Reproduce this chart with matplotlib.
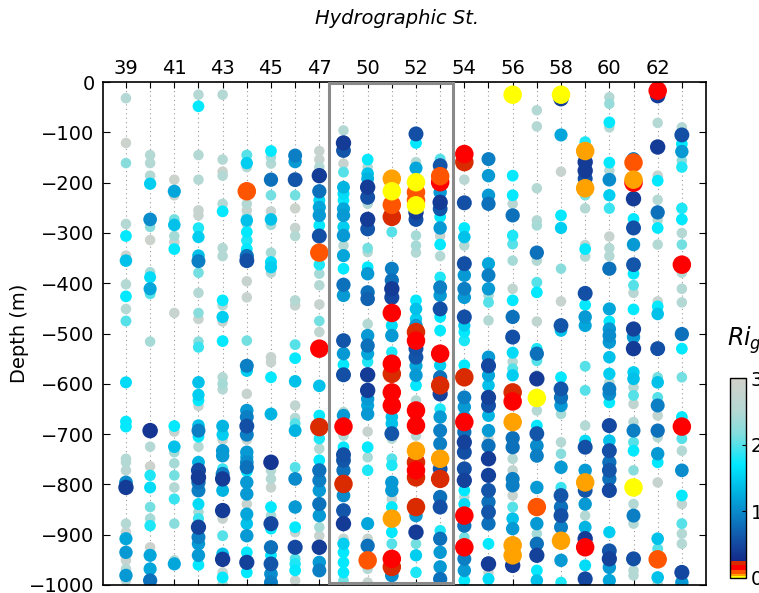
import matplotlib
matplotlib.use("Agg")
import matplotlib.pyplot as plt
import numpy as np
from matplotlib.colors import LinearSegmentedColormap, Normalize
from matplotlib.patches import Rectangle

# station numbers (48 was not occupied)
stations = [39, 40, 41, 42, 43, 44, 45, 46, 47, 49, 50, 51, 52, 53, 54, 55,
            56, 57, 58, 59, 60, 61, 62, 63]

# depth (m) and gradient Richardson number per station
z39 = [-32, -121, -161, -282, -306, -345, -355, -402, -426, -451, -475, -597, -675, -685, -749, -756, -772, -796, -806, -878, -895, -908, -935, -951, -968, -981, -991]
r39 = [2.5, 2.9, 2.2, 2.5, 1.7, 2.9, 1.4, 2.5, 1.7, 2.5, 2.0, 1.6, 1.7, 1.7, 2.5, 2.5, 2.6, 1.0, 0.4, 2.5, 2.8, 1.2, 1.1, 2.8, 2.5, 1.1, 2.6]
z40 = [-145, -161, -186, -202, -273, -288, -314, -378, -388, -411, -421, -516, -693, -725, -764, -782, -806, -845, -868, -882, -925, -941, -968, -991]
r40 = [2.5, 2.5, 2.5, 1.5, 1.0, 2.2, 2.9, 2.4, 1.6, 1.2, 2.0, 2.4, 0.35, 2.5, 2.9, 1.8, 1.6, 2.1, 2.4, 1.8, 2.9, 1.2, 1.2, 0.8]
z41 = [-194, -217, -225, -273, -284, -306, -318, -332, -459, -684, -695, -725, -736, -758, -782, -806, -829, -878, -951, -958]
r41 = [2.9, 1.2, 2.8, 2.1, 1.4, 2.4, 2.8, 1.7, 2.8, 1.7, 2.8, 1.4, 2.4, 2.4, 2.1, 2.5, 1.9, 2.2, 2.5, 1.2]
z42 = [-25, -48, -145, -194, -255, -265, -290, -308, -345, -356, -379, -419, -459, -471, -516, -527, -597, -622, -633, -644, -683, -693, -705, -725, -756, -772, -786, -796, -812, -839, -855, -868, -885, -905, -918, -941, -960]
r42 = [2.5, 1.7, 2.5, 2.5, 2.8, 2.8, 1.8, 1.5, 1.4, 0.9, 2.1, 2.5, 2.2, 2.8, 2.2, 1.9, 1.4, 1.5, 1.7, 2.8, 1.4, 0.9, 1.7, 2.5, 1.3, 0.5, 0.4, 0.8, 0.9, 1.6, 2.4, 1.9, 0.45, 0.9, 1.1, 1.1, 1.7]
z43 = [-25, -154, -178, -186, -242, -257, -330, -346, -434, -444, -467, -476, -515, -587, -600, -611, -684, -701, -711, -733, -743, -769, -779, -789, -812, -852, -868, -902, -938, -949, -975, -985, -998]
r43 = [2.5, 2.5, 2.9, 2.5, 2.5, 1.7, 2.5, 2.5, 1.7, 2.5, 1.5, 2.8, 1.7, 2.5, 2.4, 2.5, 1.3, 1.5, 2.8, 1.1, 1.1, 1.9, 0.9, 0.4, 1.3, 0.4, 2.8, 2.0, 1.4, 0.4, 2.8, 1.7, 2.5]
z44 = [-145, -161, -169, -217, -242, -255, -268, -275, -282, -298, -315, -332, -346, -355, -396, -428, -514, -564, -574, -620, -653, -666, -684, -701, -711, -736, -746, -756, -766, -774, -796, -819, -839, -859, -878, -902, -935, -955, -975]
r44 = [2.0, 1.5, 2.5, 0.09, 2.5, 2.8, 2.5, 1.4, 2.4, 1.7, 1.8, 1.7, 0.8, 0.55, 2.8, 2.8, 2.1, 0.9, 1.5, 2.8, 1.1, 0.9, 0.55, 0.9, 2.8, 1.1, 1.2, 1.0, 0.8, 1.7, 1.1, 1.1, 2.8, 1.2, 1.4, 1.1, 1.7, 0.45, 1.7]
z45 = [-137, -149, -162, -194, -225, -257, -273, -284, -339, -358, -368, -379, -547, -557, -587, -660, -756, -772, -789, -806, -845, -862, -878, -888, -925, -941, -958, -978, -995]
r45 = [1.7, 2.4, 2.5, 0.8, 2.1, 2.8, 1.4, 2.4, 2.4, 1.6, 1.5, 2.6, 2.8, 2.8, 1.7, 1.3, 0.35, 2.5, 2.5, 2.8, 1.7, 2.4, 0.5, 1.7, 0.8, 1.7, 0.6, 1.0, 0.9]
z46 = [-146, -158, -194, -225, -251, -290, -306, -434, -444, -522, -549, -595, -643, -668, -679, -693, -766, -789, -845, -885, -895, -925, -948, -958, -971, -991]
r46 = [0.9, 1.1, 0.6, 2.1, 2.9, 2.8, 2.5, 2.5, 2.8, 2.0, 1.7, 1.4, 2.7, 2.5, 2.0, 1.3, 2.0, 1.0, 1.1, 1.7, 2.8, 0.5, 2.0, 1.8, 1.7, 2.8]
z47 = [-137, -154, -169, -186, -217, -235, -249, -265, -285, -306, -339, -363, -381, -404, -442, -475, -497, -530, -604, -663, -686, -709, -729, -752, -772, -792, -812, -839, -862, -885, -902, -925, -955, -971]
r47 = [2.8, 2.8, 2.5, 0.4, 0.8, 1.6, 1.2, 1.1, 1.7, 0.55, 0.09, 1.8, 2.4, 2.5, 2.8, 2.1, 2.7, 0.15, 1.4, 1.7, 0.22, 1.8, 2.5, 1.7, 0.8, 0.9, 1.1, 0.8, 1.1, 2.4, 2.8, 0.4, 1.1, 0.9]
z49 = [-96, -121, -136, -162, -179, -209, -222, -235, -252, -265, -288, -305, -325, -345, -371, -403, -424, -514, -540, -562, -582, -656, -663, -685, -703, -726, -741, -752, -772, -799, -822, -852, -878, -908, -918, -935, -955, -975, -991]
r49 = [2.5, 0.4, 0.6, 2.8, 2.0, 1.3, 1.6, 1.7, 1.2, 1.1, 1.5, 1.1, 2.5, 1.2, 1.7, 0.8, 1.1, 0.6, 1.1, 1.7, 0.55, 2.5, 1.1, 0.15, 2.5, 1.7, 0.55, 0.6, 0.8, 0.22, 1.0, 0.6, 0.4, 2.8, 1.5, 1.7, 1.7, 1.7, 2.1]
z50 = [-154, -169, -182, -192, -209, -229, -242, -273, -292, -330, -338, -368, -381, -418, -431, -481, -504, -524, -540, -556, -582, -613, -630, -643, -660, -695, -726, -746, -772, -878, -908, -922, -951, -968, -995]
r50 = [1.7, 2.5, 1.4, 1.3, 0.4, 0.55, 2.5, 0.4, 0.6, 2.1, 2.5, 1.7, 1.1, 0.8, 0.7, 2.5, 1.1, 0.8, 1.2, 1.8, 0.4, 0.4, 1.1, 1.2, 1.1, 2.8, 1.7, 2.4, 1.8, 1.2, 2.8, 0.8, 0.09, 2.5, 2.8]
z51 = [-192, -217, -244, -268, -298, -371, -394, -411, -428, -459, -484, -504, -537, -560, -580, -617, -643, -666, -679, -699, -709, -749, -762, -796, -812, -829, -845, -868, -895, -918, -948, -964, -981]
r51 = [0.045, 0.01, 0.09, 0.22, 2.0, 0.9, 0.8, 0.4, 0.5, 0.15, 1.6, 1.1, 1.8, 0.15, 0.22, 0.15, 0.15, 1.4, 1.4, 0.6, 2.5, 2.0, 1.8, 1.1, 1.1, 2.8, 1.7, 0.045, 1.7, 2.0, 0.15, 0.22, 1.0]
z52 = [-103, -121, -159, -171, -199, -219, -235, -245, -259, -273, -305, -325, -339, -434, -451, -471, -484, -497, -514, -530, -547, -564, -583, -603, -633, -653, -683, -703, -733, -756, -772, -786, -845, -862, -895, -918, -941, -975]
r52 = [0.55, 1.7, 2.5, 1.2, 0.01, 0.09, 0.09, 0.01, 0.4, 0.55, 2.4, 2.4, 2.5, 1.7, 1.4, 1.5, 1.1, 0.22, 0.15, 0.55, 0.6, 1.2, 1.1, 1.7, 2.5, 0.15, 0.15, 2.5, 0.045, 0.22, 0.15, 0.22, 0.22, 1.1, 0.4, 2.1, 1.5, 1.8]
z53 = [-153, -166, -187, -199, -219, -239, -252, -268, -290, -306, -323, -346, -388, -408, -424, -451, -467, -494, -540, -563, -587, -603, -620, -650, -666, -693, -719, -749, -769, -789, -825, -845, -892, -908, -935, -964, -988]
r53 = [2.0, 0.6, 0.09, 0.15, 1.1, 0.4, 0.6, 1.7, 1.1, 2.8, 1.7, 2.5, 1.8, 0.9, 1.1, 0.55, 1.7, 1.7, 0.15, 1.5, 0.8, 0.22, 0.45, 1.8, 1.1, 0.9, 0.9, 0.045, 0.6, 0.22, 0.8, 0.55, 1.8, 0.8, 1.1, 1.1, 0.8]
z54 = [-143, -159, -194, -240, -290, -308, -325, -361, -384, -411, -428, -467, -484, -497, -514, -563, -587, -627, -646, -666, -676, -696, -716, -736, -769, -792, -812, -825, -839, -862, -882, -905, -925, -948, -971, -991]
r54 = [0.15, 0.22, 2.6, 0.55, 1.7, 1.4, 2.5, 0.55, 1.1, 0.9, 1.1, 0.55, 1.5, 1.7, 1.8, 1.7, 0.22, 0.9, 1.1, 1.2, 0.15, 0.8, 0.45, 0.55, 0.55, 0.45, 1.7, 2.5, 1.6, 0.15, 0.8, 2.1, 0.15, 0.9, 1.1, 1.7]
z55 = [-153, -186, -225, -242, -361, -384, -411, -424, -438, -474, -547, -564, -583, -603, -627, -643, -663, -693, -709, -723, -749, -782, -812, -835, -855, -878, -918, -958, -975, -988]
r55 = [0.9, 1.1, 1.1, 0.8, 1.2, 0.9, 1.1, 2.4, 2.0, 2.5, 1.1, 0.5, 1.2, 1.4, 0.45, 0.55, 1.3, 1.1, 2.8, 0.8, 0.4, 0.45, 0.6, 0.8, 0.6, 0.8, 1.7, 0.4, 2.8, 1.6]
z56 = [-25, -186, -225, -242, -265, -305, -322, -355, -411, -434, -467, -507, -538, -556, -570, -583, -617, -635, -676, -708, -726, -749, -772, -789, -802, -822, -845, -868, -888, -921, -941, -961]
r56 = [0.01, 1.7, 1.7, 2.6, 0.8, 1.8, 2.0, 2.4, 2.7, 1.7, 0.8, 0.55, 1.6, 2.5, 2.0, 1.5, 0.22, 0.15, 0.045, 0.8, 0.8, 2.5, 2.7, 0.9, 0.9, 2.8, 2.0, 1.4, 1.1, 0.045, 0.045, 0.4]
z57 = [-56, -88, -211, -275, -285, -339, -355, -398, -418, -476, -530, -540, -554, -583, -590, -628, -653, -683, -699, -723, -743, -806, -845, -878, -898, -918, -941, -971, -991]
r57 = [2.5, 2.5, 2.5, 2.5, 2.4, 0.8, 2.5, 2.0, 1.7, 2.7, 1.8, 0.8, 2.0, 2.6, 0.4, 0.01, 2.5, 1.7, 0.6, 1.0, 0.9, 1.1, 0.09, 1.1, 2.4, 0.8, 0.45, 1.7, 1.4]
z58 = [-25, -33, -105, -178, -265, -290, -371, -436, -484, -494, -587, -610, -627, -643, -660, -716, -739, -766, -806, -822, -845, -862, -885, -912, -951, -995]
r58 = [0.01, 0.4, 1.2, 2.8, 1.7, 1.5, 2.2, 2.8, 0.6, 1.4, 1.7, 0.6, 0.8, 1.1, 2.4, 2.5, 2.2, 1.1, 1.9, 0.6, 0.8, 0.55, 0.9, 0.045, 1.1, 1.8]
z59 = [-119, -137, -159, -176, -192, -211, -225, -251, -324, -332, -347, -420, -443, -467, -484, -565, -613, -683, -713, -726, -772, -796, -812, -839, -862, -885, -908, -925, -961, -988]
r59 = [1.8, 0.045, 0.4, 0.4, 0.55, 0.045, 2.1, 2.5, 2.7, 1.7, 2.5, 0.55, 1.7, 1.1, 1.2, 2.0, 2.0, 2.5, 1.6, 0.55, 1.1, 0.045, 0.6, 1.1, 2.5, 1.3, 0.4, 0.15, 1.6, 0.5]
z60 = [-30, -43, -80, -90, -160, -176, -194, -225, -251, -307, -330, -346, -371, -451, -476, -491, -504, -517, -547, -580, -597, -610, -620, -637, -683, -713, -733, -756, -772, -789, -812, -895, -932, -948, -965, -991]
r60 = [2.5, 2.3, 1.7, 2.5, 1.7, 2.5, 1.0, 1.5, 1.9, 2.8, 2.5, 2.5, 0.8, 1.2, 1.7, 1.1, 1.0, 1.1, 1.4, 1.5, 2.5, 0.9, 1.0, 1.7, 0.5, 1.4, 0.55, 0.8, 0.6, 0.8, 0.5, 1.5, 0.6, 0.45, 1.1, 1.2]
z61 = [-153, -160, -200, -194, -232, -272, -290, -323, -363, -381, -404, -419, -452, -491, -507, -530, -577, -590, -607, -623, -640, -676, -693, -716, -733, -772, -806, -839, -862, -878, -948, -971, -981]
r61 = [0.9, 0.09, 0.15, 0.045, 0.4, 1.7, 0.55, 1.1, 0.6, 1.7, 2.0, 2.6, 1.7, 0.45, 1.1, 0.4, 1.5, 1.4, 2.5, 2.0, 2.7, 2.5, 0.9, 2.0, 1.7, 2.2, 0.01, 2.5, 0.9, 2.5, 0.55, 2.5, 2.5]
z62 = [-17, -27, -81, -129, -186, -196, -234, -259, -274, -290, -323, -436, -446, -461, -530, -587, -597, -627, -643, -663, -693, -706, -739, -756, -796, -908, -928, -949, -985, -998]
r62 = [0.15, 0.4, 2.5, 0.4, 2.8, 1.7, 2.5, 0.8, 2.5, 1.7, 2.5, 2.8, 1.7, 1.4, 0.55, 2.1, 1.4, 2.0, 0.9, 2.7, 0.8, 2.5, 1.1, 1.7, 2.8, 1.4, 2.0, 0.09, 1.4, 2.5]
z63 = [-90, -105, -123, -138, -156, -169, -251, -273, -300, -323, -363, -379, -411, -438, -501, -530, -587, -666, -685, -709, -733, -772, -822, -839, -878, -898, -918, -975, -995]
r63 = [2.5, 0.55, 1.7, 1.1, 2.2, 1.8, 1.8, 1.7, 2.5, 2.1, 0.15, 2.5, 2.5, 2.5, 0.8, 1.7, 2.1, 1.7, 0.15, 2.0, 2.5, 1.0, 1.7, 2.7, 2.0, 2.5, 2.5, 0.5, 1.1]

depths = [z39, z40, z41, z42, z43, z44, z45, z46, z47, z49, z50, z51,
          z52, z53, z54, z55, z56, z57, z58, z59, z60, z61, z62, z63]
rig = [r39, r40, r41, r42, r43, r44, r45, r46, r47, r49, r50, r51,
       r52, r53, r54, r55, r56, r57, r58, r59, r60, r61, r62, r63]

# stations 49-53 get boxed
box_first, box_last = 49, 53

# colormap: stepped warm colours below Ri=0.25, blue -> cyan -> grey above
RIMAX = 3.0
nodes = [
    (0.0, "#ffff00"), (0.025, "#ffff00"),
    (0.025, "#ffa200"), (0.065, "#ffa200"),
    (0.065, "#ff5500"), (0.125, "#ff5500"),
    (0.125, "#ff0000"), (0.19, "#ff0000"),
    (0.19, "#d92a00"), (0.26, "#d92a00"),
    (0.26, "#142a8a"), (0.5, "#1448a0"),
    (0.95, "#0a84c8"), (1.3, "#00b4e2"),
    (1.7, "#00e8ff"), (2.15, "#80dede"),
    (2.5, "#b4d8d4"), (3.0, "#d2d0ca"),
]
cmap = LinearSegmentedColormap.from_list(
    "rig", [(v / RIMAX, c) for v, c in nodes], N=600)
norm = Normalize(0, RIMAX)

xs, ys, cs = [], [], []
for i, (z, r) in enumerate(zip(depths, rig)):
    xs += [i] * len(z)
    ys += z
    cs += r
xs, ys, cs = np.array(xs), np.array(ys), np.array(cs)

# marker diameter in px, bigger where the flow is unstable
diam = np.where(cs < 0.26, 18.5, np.clip(16.5 - 2.8 * cs, 10.5, None))
sizes = (diam * 0.72) ** 2

order = np.argsort(-cs, kind="stable")

fig = plt.figure(figsize=(7.59, 5.93), dpi=100)
ax = fig.add_axes([0.1357, 0.0135, 0.7945, 0.848])

for i in range(len(stations)):
    ax.axvline(i, color="#9a9a9a", lw=0.8, ls=(0, (1, 3)), zorder=0)

sc = ax.scatter(xs[order], ys[order], c=cs[order], s=sizes[order],
                cmap=cmap, norm=norm, edgecolors="none", zorder=2)

i0 = stations.index(box_first)
i1 = stations.index(box_last)
ax.add_patch(Rectangle((i0 - 0.6, -996), (i1 - i0) + 1.12, 995,
                       fill=False, ec="#8a8a8a", lw=2.2, zorder=4))

ax.set_xlim(-0.95, 24.0)
ax.set_ylim(-1000, 0)
ax.set_xticks(range(len(stations)))
ax.set_xticklabels([str(s) if i % 2 == 0 else "" for i, s in enumerate(stations)])
ax.set_yticks(range(-1000, 1, 100))
ax.tick_params(axis="x", top=True, bottom=True, labeltop=True,
               labelbottom=False, direction="in", length=4, pad=3,
               labelsize=14)
ax.tick_params(axis="y", left=True, right=True, direction="in",
               length=5, pad=6, labelsize=14)
for sp in ax.spines.values():
    sp.set_linewidth(1.2)

ax.set_ylabel("Depth (m)", fontsize=14)
ax.yaxis.set_label_coords(-0.122, 0.5)
fig.text(397 / 759, 1 - 18 / 593, "Hydrographic St.", style="italic",
         fontsize=14, ha="center", va="center")

cax = fig.add_axes([0.9618, 0.0253, 0.021, 0.337])
cb = fig.colorbar(sc, cax=cax, ticks=[0, 1, 2, 3])
cb.ax.tick_params(labelsize=14, direction="in", length=3)
cb.outline.set_linewidth(1.0)
fig.text(727 / 759, 1 - 340 / 593, r"$Ri_g$", fontsize=17,
         ha="left", va="center")

fig.savefig("out.png", dpi=100)
